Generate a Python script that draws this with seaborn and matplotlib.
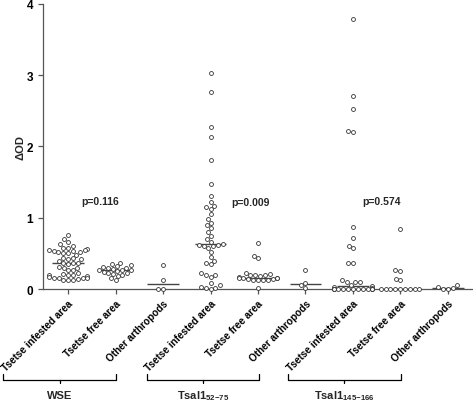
import matplotlib
matplotlib.use("Agg")
import matplotlib.pyplot as plt
import matplotlib.transforms as mtransforms
import numpy as np
import pandas as pd
import seaborn as sns

# =========================================
# DATA
# =========================================

tick_labels = [
    "Tsetse infested area", "Tsetse free area", "Other arthropods",
    "Tsetse infested area", "Tsetse free area", "Other arthropods",
    "Tsetse infested area", "Tsetse free area", "Other arthropods",
]

wse_infested = [
    0.76, 0.70, 0.66, 0.63, 0.60, 0.58, 0.57, 0.56, 0.55, 0.55, 0.54, 0.53,
    0.52, 0.52, 0.51, 0.50, 0.48, 0.44, 0.43, 0.42, 0.42, 0.40,
    0.37, 0.36, 0.36, 0.35,
    0.31, 0.30, 0.29, 0.27, 0.26, 0.22, 0.21, 0.20, 0.19, 0.19, 0.18, 0.17,
    0.16, 0.16, 0.15, 0.15, 0.14, 0.13, 0.13, 0.12,
]
wse_free = [
    0.37, 0.35, 0.33, 0.32, 0.31, 0.30, 0.29, 0.28, 0.27, 0.26,
    0.26, 0.25, 0.24, 0.23, 0.22, 0.21, 0.20, 0.18, 0.15, 0.12,
]
wse_other = [0.33, 0.13, 0.0, 0.0]

p52_infested = [
    3.03, 2.77, 2.28, 2.14, 1.81, 1.48, 1.30, 1.22, 1.17, 1.15, 1.12, 1.05,
    0.98, 0.93, 0.90, 0.86, 0.80, 0.74, 0.70, 0.66, 0.63, 0.62, 0.62, 0.61,
    0.60, 0.58, 0.52, 0.45, 0.40, 0.37, 0.35, 0.22, 0.20, 0.19, 0.17, 0.08,
    0.05, 0.03, 0.02, 0.01, 0.0,
]
p52_free = [
    0.65, 0.46, 0.43, 0.22, 0.21, 0.20, 0.19, 0.19, 0.18, 0.17, 0.16,
    0.16, 0.15, 0.15, 0.14, 0.14, 0.13, 0.13, 0.12, 0.12, 0.02,
]
p52_other = [0.26, 0.09, 0.05, 0.02]

p145_infested = [
    3.79, 2.71, 2.52, 2.22, 2.20, 0.87, 0.72, 0.61, 0.58, 0.36, 0.36,
    0.12, 0.10, 0.10, 0.10, 0.06, 0.04, 0.03, 0.02,
] + [0.0] * 14
p145_free = [0.84, 0.26, 0.25, 0.14, 0.12] + [0.0] * 9
p145_other = [0.05, 0.03, 0.01, 0.0, 0.0]

groups = [
    wse_infested, wse_free, wse_other,
    p52_infested, p52_free, p52_other,
    p145_infested, p145_free, p145_other,
]

p_values = ["p=0.116", "p=0.009", "p=0.574"]
p_x = [0.67, 3.85, 6.61]
p_y = [1.23, 1.22, 1.23]

antigens = ["WSE", "Tsal1$_{52\\mathrm{-}75}$", "Tsal1$_{145\\mathrm{-}166}$"]
bracket_x = [(-1.37, 1.01), (1.66, 4.02), (4.63, 7.01)]

# long format table for seaborn
rows = []
for i, vals in enumerate(groups):
    for v in vals:
        rows.append({"group": i, "od": v})
df = pd.DataFrame(rows)

# =========================================
# STYLE
# =========================================

sns.set_style("ticks")
plt.rcParams["font.family"] = ["Liberation Sans", "DejaVu Sans"]
plt.rcParams["font.weight"] = "bold"
plt.rcParams["mathtext.fontset"] = "custom"
plt.rcParams["mathtext.rm"] = "Liberation Sans:bold"
plt.rcParams["mathtext.it"] = "Liberation Sans:bold"
plt.rcParams["mathtext.bf"] = "Liberation Sans:bold"

fig = plt.figure(figsize=(4.73, 4.02), dpi=100)
ax = fig.add_axes([0.0909, 0.2786, 0.9091, 0.709])

# =========================================
# MEDIAN LINES + POINTS
# =========================================

sns.boxplot(
    data=df, x="group", y="od", order=list(range(9)),
    width=0.66, showbox=False, showcaps=False, showfliers=False, whis=0,
    medianprops=dict(color="#444444", linewidth=1),
    whiskerprops=dict(linewidth=0),
    ax=ax,
)

sns.swarmplot(
    data=df, x="group", y="od", order=list(range(9)),
    size=2.8, color="white", edgecolor="#333333", linewidth=0.6,
    warn_thresh=1.0, clip_on=False, zorder=3, ax=ax,
)

ax.set_xlim(-0.53, 8.53)
ax.set_ylim(0, 4)
ax.set_yticks([0, 1, 2, 3, 4])
ax.set_yticklabels(["0", "1", "2", "3", "4"], fontsize=8.5, fontweight="bold")
ax.set_xticks(range(9))
ax.set_xticklabels(
    tick_labels, rotation=45, ha="right", rotation_mode="anchor",
    fontsize=7.2, fontweight="bold",
)
offset = mtransforms.ScaledTranslation(10 / 100, 0, fig.dpi_scale_trans)
for lab in ax.get_xticklabels():
    lab.set_transform(lab.get_transform() + offset)

ax.set_xlabel("")
ax.set_ylabel("\u0394OD", fontsize=8, fontweight="bold", labelpad=1)

for side in ["top", "right"]:
    ax.spines[side].set_visible(False)
for side in ["left", "bottom"]:
    ax.spines[side].set_color("#555555")
    ax.spines[side].set_linewidth(0.9)
ax.tick_params(axis="both", colors="#555555", length=3.5, width=0.9,
               labelcolor="black")
ax.tick_params(axis="x", pad=3)

# p values
for txt, x, y in zip(p_values, p_x, p_y):
    ax.text(x, y, txt, ha="center", va="center", fontsize=7.5,
            fontweight="bold")

# =========================================
# GROUP BRACKETS
# =========================================

trans = mtransforms.blended_transform_factory(ax.transData, ax.transAxes)
for name, (x0, x1) in zip(antigens, bracket_x):
    xm = (x0 + x1) / 2
    ax.plot([x0, x0, x1, x1], [-0.298, -0.319, -0.319, -0.298],
            color="black", lw=0.9, transform=trans, clip_on=False)
    ax.plot([xm, xm], [-0.319, -0.33], color="black", lw=0.9,
            transform=trans, clip_on=False)
    ax.text(xm, -0.372, name, ha="center", va="center", fontsize=8,
            fontweight="bold", transform=trans)

fig.savefig("out.png", dpi=100)
